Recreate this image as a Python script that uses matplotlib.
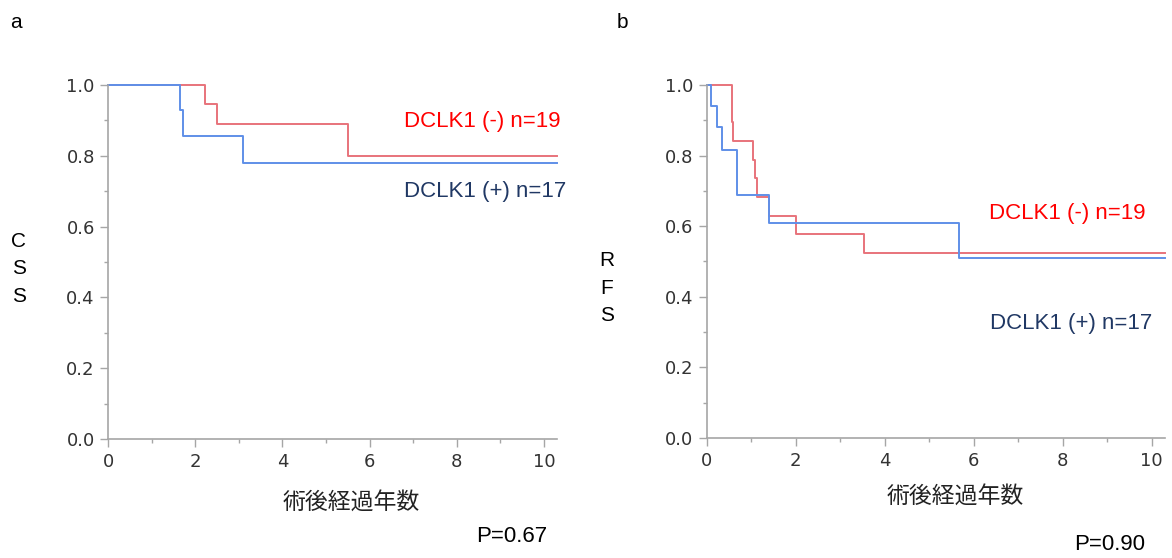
import matplotlib
matplotlib.use('Agg')
import matplotlib.pyplot as plt
from matplotlib.ticker import MultipleLocator

# Kaplan-Meier step values (time in years, survival fraction)
css_neg_t = [0, 2.22, 2.49, 5.50]
css_neg_s = [1.0, 0.947, 0.889, 0.799]
css_pos_t = [0, 1.65, 1.71, 3.09]
css_pos_s = [1.0, 0.929, 0.856, 0.779]

rfs_neg_t = [0, 0.56, 0.585, 1.04, 1.09, 1.14, 1.41, 2.00, 3.53]
rfs_neg_s = [1.0, 0.896, 0.841, 0.788, 0.736, 0.682, 0.630, 0.577, 0.524]
rfs_pos_t = [0, 0.10, 0.24, 0.34, 0.68, 1.40, 5.67]
rfs_pos_s = [1.0, 0.941, 0.880, 0.816, 0.688, 0.610, 0.509]

x_end = 10.3
x_ticks = [0, 2, 4, 6, 8, 10]
y_ticks = [0.0, 0.2, 0.4, 0.6, 0.8, 1.0]
label_neg = "DCLK1 (-) n=19"
label_pos = "DCLK1 (+) n=17"
x_label = "術後経過年数"

RED_LINE = '#E8737B'
BLUE_LINE = '#5F8FE8'
RED_TXT = '#FF0000'
BLUE_TXT = '#203864'
SPINE = '#A6A6A6'

W, H = 1172, 558
fig = plt.figure(figsize=(W / 100, H / 100), dpi=100)


def px(x, y):
    return x / W, 1 - y / H


def make_axes(x0, x1, y_top, y_bot):
    ax = fig.add_axes([x0 / W, 1 - y_bot / H, (x1 - x0) / W, (y_bot - y_top) / H])
    ax.set_xlim(0, x_end)
    ax.set_ylim(0, 1.0)
    for s in ['top', 'right']:
        ax.spines[s].set_visible(False)
    for s in ['left', 'bottom']:
        ax.spines[s].set_color(SPINE)
        ax.spines[s].set_linewidth(1.2)
    ax.set_xticks(x_ticks)
    ax.set_yticks(y_ticks)
    ax.set_yticklabels([f"{v:.1f}" for v in y_ticks])
    ax.xaxis.set_minor_locator(MultipleLocator(1))
    ax.yaxis.set_minor_locator(MultipleLocator(0.1))
    ax.tick_params(which='major', length=6, width=1, color=SPINE,
                   labelsize=13, labelcolor='#333333')
    ax.tick_params(which='minor', length=3, width=1, color=SPINE)
    ax.tick_params(axis='x', pad=4)
    ax.patch.set_alpha(0)
    return ax


def km(ax, t, s, color):
    ax.step(list(t) + [x_end], list(s) + [s[-1]], where='post',
            color=color, lw=1.4, clip_on=False)


# panel a
ax1 = make_axes(108, 557, 85, 439)
km(ax1, css_neg_t, css_neg_s, RED_LINE)
km(ax1, css_pos_t, css_pos_s, BLUE_LINE)

# panel b
ax2 = make_axes(706.7, 1165, 85, 438)
km(ax2, rfs_neg_t, rfs_neg_s, RED_LINE)
km(ax2, rfs_pos_t, rfs_pos_s, BLUE_LINE)

txt_font = ['Liberation Sans', 'DejaVu Sans']
cjk_font = ['Noto Sans CJK JP', 'DejaVu Sans']

fig.text(*px(16, 22), "a", fontsize=15, family=txt_font, ha='center', va='center')
fig.text(*px(622, 22), "b", fontsize=15, family=txt_font, ha='center', va='center')

fig.text(*px(19, 269), "C\nS\nS", fontsize=15, family=txt_font,
         ha='center', va='center', linespacing=1.55)
fig.text(*px(607, 288), "R\nF\nS", fontsize=15, family=txt_font,
         ha='center', va='center', linespacing=1.55)

fig.text(*px(482, 121), label_neg, color=RED_TXT, fontsize=16, family=txt_font,
         ha='center', va='center')
fig.text(*px(485, 192), label_pos, color=BLUE_TXT, fontsize=16, family=txt_font,
         ha='center', va='center')
fig.text(*px(1067, 213), label_neg, color=RED_TXT, fontsize=16, family=txt_font,
         ha='center', va='center')
fig.text(*px(1071, 323), label_pos, color=BLUE_TXT, fontsize=16, family=txt_font,
         ha='center', va='center')

fig.text(*px(351, 502), x_label, fontsize=16.5, family=cjk_font, ha='center', va='center',
         color='#222222')
fig.text(*px(955, 496), x_label, fontsize=16.5, family=cjk_font, ha='center', va='center',
         color='#222222')

fig.text(*px(512, 537), "P=0.67", fontsize=16, family=txt_font, ha='center', va='center')
fig.text(*px(1110, 545), "P=0.90", fontsize=16, family=txt_font, ha='center', va='center')

fig.savefig('out.png', dpi=100, facecolor='white')
